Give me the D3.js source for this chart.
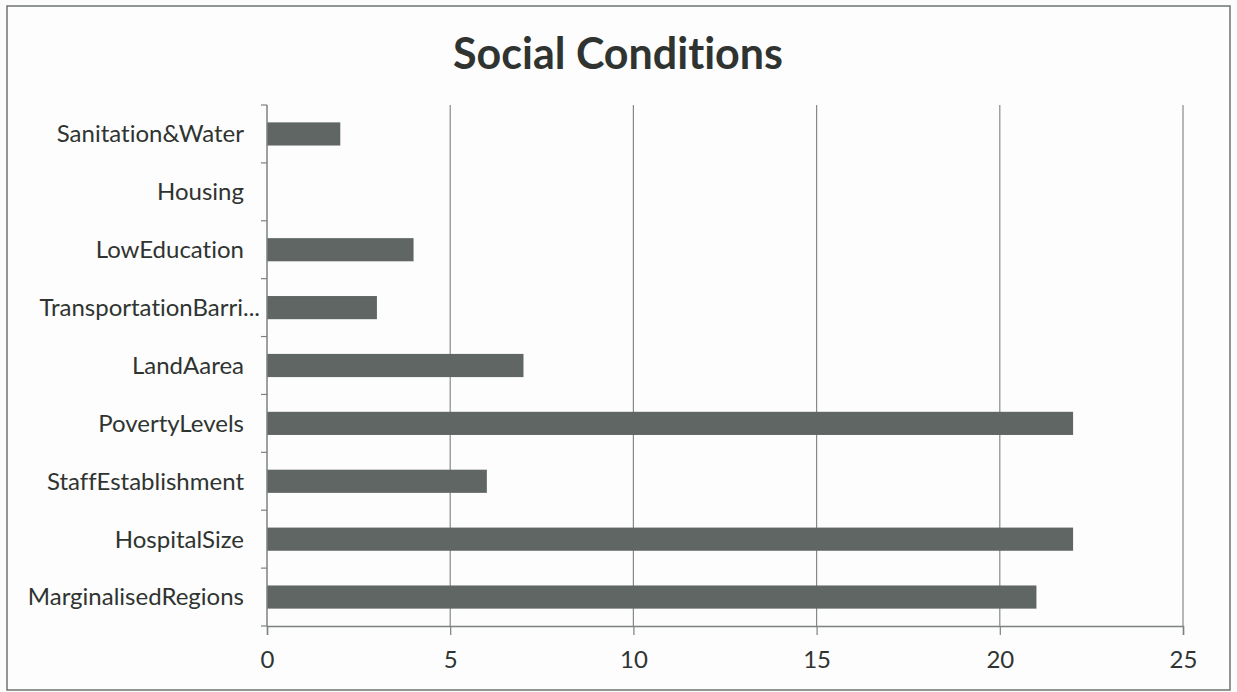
<!DOCTYPE html>
<html>
<head>
<meta charset="utf-8">
<script src="https://cdn.jsdelivr.net/npm/d3@7/dist/d3.min.js"></script>
<style>
  html, body { margin: 0; padding: 0; background: #fbfcfb; }
  svg { display: block; }
  text { font-family: Lato, "Open Sans", sans-serif; fill: #2f3431; font-variant-ligatures: none; font-feature-settings: "liga" 0; }
</style>
</head>
<body>
<svg id="chart" width="1237" height="692"></svg>
<script>
const categories = ["Sanitation&Water", "Housing", "LowEducation", "TransportationBarri...", "LandAarea", "PovertyLevels", "StaffEstablishment", "HospitalSize", "MarginalisedRegions"];
const values = [2, 0, 4, 3, 7, 22, 6, 22, 21];
const xTicks = [0, 5, 10, 15, 20, 25];
const title = "Social Conditions";

const data = categories.map((c, i) => ({ category: c, value: values[i] }));

const svg = d3.select("#chart");
const W = 1237, H = 692;
const margin = { left: 267, right: W - 1183, top: 105, bottom: H - 626 };

// outer frame
svg.append("rect")
  .attr("x", 7).attr("y", 6).attr("width", 1223).attr("height", 684)
  .attr("fill", "#fcfdfc").attr("stroke", "#6f7471").attr("stroke-width", 1.5);

const x = d3.scaleLinear().domain([0, 25]).range([margin.left, W - margin.right]);
const y = d3.scaleBand().domain(categories).range([margin.top, H - margin.bottom]).paddingInner(0.6).paddingOuter(0.3);
const yEdge = d3.scaleBand().domain(categories).range([margin.top, H - margin.bottom]);

// gridlines
svg.append("g").selectAll("line").data(xTicks.filter(t => t > 0)).join("line")
  .attr("x1", d => x(d)).attr("x2", d => x(d))
  .attr("y1", margin.top).attr("y2", H - margin.bottom)
  .attr("stroke", "#858a87").attr("stroke-width", 1.2);

// bars
svg.append("g").selectAll("rect").data(data).join("rect")
  .attr("x", x(0))
  .attr("y", d => y(d.category))
  .attr("width", d => x(d.value) - x(0))
  .attr("height", y.bandwidth())
  .attr("fill", "#5f6663");

// x axis
const xAxis = d3.axisBottom(x).tickValues(xTicks).tickSize(9).tickPadding(16).tickFormat(d3.format("d"));
const gx = svg.append("g").attr("transform", `translate(0,${H - margin.bottom})`).call(xAxis);
gx.select(".domain").attr("stroke", "#7d8280").attr("stroke-width", 1.5);
gx.selectAll(".tick line").attr("stroke", "#7d8280").attr("stroke-width", 1.2);
gx.selectAll(".tick text").attr("font-size", 24).style("font-family", "Lato, sans-serif").attr("fill", "#2f3431");

// y axis: domain line with tick marks at category boundaries
const gy = svg.append("g");
gy.append("line")
  .attr("x1", x(0)).attr("x2", x(0))
  .attr("y1", margin.top).attr("y2", H - margin.bottom)
  .attr("stroke", "#7d8280").attr("stroke-width", 1.5);
const edges = categories.map(c => yEdge(c)).concat([H - margin.bottom]);
gy.selectAll("line.edge").data(edges).join("line").attr("class", "edge")
  .attr("x1", x(0) - 6).attr("x2", x(0))
  .attr("y1", d => d).attr("y2", d => d)
  .attr("stroke", "#7d8280").attr("stroke-width", 1.2);
gy.selectAll("text").data(categories).join("text")
  .attr("x", d => d.endsWith("...") ? x(0) - 7 : x(0) - 23)
  .attr("y", d => yEdge(d) + yEdge.bandwidth() / 2)
  .attr("dy", "0.35em")
  .attr("text-anchor", "end")
  .attr("font-size", 24)
  .text(d => d);

// title
svg.append("text")
  .attr("x", 618).attr("y", 69)
  .attr("text-anchor", "middle")
  .attr("font-size", 43).attr("font-weight", "bold")
  .attr("fill", "#1d221f")
  .text(title);
</script>
</body>
</html>
